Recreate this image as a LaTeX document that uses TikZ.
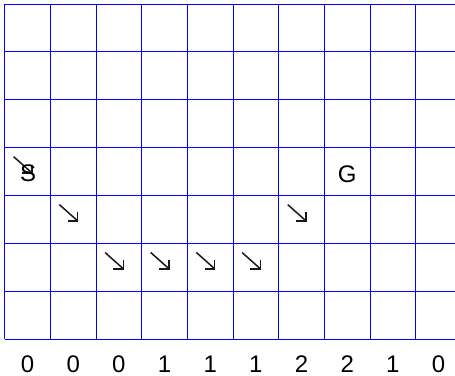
\documentclass[tikz,border=0pt]{standalone}
\usepackage{fontspec}
\setmainfont{Liberation Sans}
\begin{document}
\begin{tikzpicture}[x=1pt,y=-1pt,
  gridline/.style={blue,line width=1pt},
  lbl/.style={anchor=base,inner sep=0pt,font=\fontsize{24}{24}\selectfont},
  diag/.style={line width=1.5pt,black!90,line join=miter}]
\useasboundingbox (0,0) rectangle (455,375);
\clip (0,0) rectangle (455,375);
\def\cw{45.67}\def\rh{47.9}\def\ox{4.7}\def\oy{4}
% grid
\foreach \i in {0,...,10}
  \draw[gridline] ({\ox+\i*\cw},\oy) -- ({\ox+\i*\cw},{\oy+7*\rh});
\foreach \j in {0,...,7}
  \draw[gridline] (\ox,{\oy+\j*\rh}) -- (462,{\oy+\j*\rh});
% arrows
\foreach \c/\r [count=\k] in {0/3,1/4,2/5,3/5,4/5,5/5,6/4}{
  \coordinate (t\k) at ({\ox+\c*\cw+9},{\oy+\r*\rh+9});
  \coordinate (h\k) at ({\ox+\c*\cw+27.3},{\oy+\r*\rh+25.3});
  \draw[diag] (t\k) -- (h\k);
  \draw[diag] ([yshift=8.5pt]h\k) -- (h\k) -- ([xshift=-10pt]h\k);
}
% labels
\node[lbl] (S) at ({\ox+0.5*\cw+0.5},181.8) {S};
\node[lbl] (G) at ({\ox+7.5*\cw},182.2) {G};
\foreach \v [count=\k from 0] in {0,0,0,1,1,1,2,2,1,0}
  \node[lbl] (n\k) at ({\ox+(\k+0.5)*\cw},372.5) {\v};
\end{tikzpicture}
\end{document}
